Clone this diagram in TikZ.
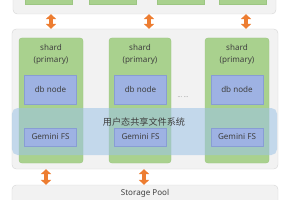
\documentclass[tikz,border=0pt]{standalone}
\usepackage{fontspec}
\setmainfont{Noto Sans}
\newfontfamily\cjkfont{Noto Sans CJK SC}
\usetikzlibrary{arrows.meta,positioning}
\definecolor{gfPanel}{HTML}{F2F2F2}
\definecolor{gfEdge}{HTML}{D6D6D6}
\definecolor{gfShard}{HTML}{A9D18E}
\definecolor{gfShardEdge}{HTML}{9CC682}
\definecolor{gfNode}{HTML}{9EB2E3}
\definecolor{gfNodeEdge}{HTML}{889DD4}
\definecolor{gfShare}{HTML}{9DC3E6}
\definecolor{gfArrow}{HTML}{ED7D31}
\definecolor{gfText}{HTML}{404040}
\tikzset{
  panel/.style={draw=gfEdge, fill=gfPanel, rounded corners=6pt, line width=0.6pt,
    minimum width=133mm, font=\fontsize{11.5}{13}\selectfont, text=gfText},
  shardbox/.style={draw=gfShardEdge, fill=gfShard, rounded corners=4pt, line width=0.5pt,
    minimum width=32mm, minimum height=62.5mm},
  topbox/.style={draw=gfShardEdge, fill=gfShard, line width=0.5pt,
    minimum width=23.5mm, minimum height=7mm},
  shardtag/.style={font=\fontsize{11.5}{17}\selectfont, text=gfText, align=center, inner sep=0pt},
  dbnode/.style={draw=gfNodeEdge, fill=gfNode, line width=0.5pt,
    minimum width=26mm, minimum height=14.5mm, font=\fontsize{11.5}{13}\selectfont, text=gfText},
  fsnode/.style={dbnode, minimum height=9mm},
  sharefs/.style={fill=gfShare, fill opacity=0.55, text opacity=1, rounded corners=8pt,
    minimum width=132.5mm, minimum height=23.5mm},
  biarrow/.style={{Triangle[length=2.4mm,width=5mm]}-{Triangle[length=2.4mm,width=5mm]},
    line width=1.7mm, gfArrow}
}
\begin{document}
\begin{tikzpicture}[x=0.5mm, y=-0.5mm]
  \useasboundingbox (0,0) rectangle (300,200);
  \clip (0,0) rectangle (300,200);
  % upper layer
  \node[panel, minimum width=131.5mm, minimum height=12mm] (upper) at (144.5,2) {};
  \node[topbox] (u1) at (48.5,-3) {};
  \node[topbox] (u2) at (112.5,-3) {};
  \node[topbox] (u3) at (181,-3) {};
  \node[topbox] (u4) at (242.5,-3) {};
  % shard layer
  \node[panel, minimum height=70mm] (mid) at (145,99) {};
  \node[shardbox] (s1) at (51,100.5) {};
  \node[shardbox, minimum width=31mm] (s2) at (140,100.5) {};
  \node[shardbox] (s3) at (237,100.5) {};
  \node[shardtag, below=3mm of s1.north] (t1) {shard\\(primary)};
  \node[shardtag, below=3mm of s2.north] (t2) {shard\\(primary)};
  \node[shardtag, below=3mm of s3.north] (t3) {shard\\(primary)};
  \node[dbnode] (db1) at (50.5,89.5) {db node};
  \node[dbnode] (db2) at (140.5,89.5) {db node};
  \node[dbnode] (db3) at (237,89.5) {db node};
  \node[font=\footnotesize, text=gray] (more) at (183,97) {... ...};
  % shared file system band
  \node[sharefs] (share) at (144.5,131.5) {};
  \node[font=\cjkfont\fontsize{13}{15}\selectfont, text=gfText] (sharetxt) at (144,122) {用户态共享文件系统};
  \node[fsnode] (fs1) at (50.5,137) {Gemini FS};
  \node[fsnode] (fs2) at (140.5,137) {Gemini FS};
  \node[fsnode] (fs3) at (237,137) {Gemini FS};
  % storage
  \node[panel, minimum height=12mm, text depth=5mm] (pool) at (145,197) {Storage Pool};
  % links
  \coordinate (a1) at (51,0);
  \coordinate (a2) at (149,0);
  \coordinate (a3) at (246,0);
  \coordinate (b1) at (46,0);
  \coordinate (b2) at (144,0);
  \draw[biarrow] (upper.south -| a1) -- (mid.north -| a1);
  \draw[biarrow] (upper.south -| a2) -- (mid.north -| a2);
  \draw[biarrow] (upper.south -| a3) -- (mid.north -| a3);
  \draw[biarrow] (mid.south -| b1) -- (pool.north -| b1);
  \draw[biarrow] (mid.south -| b2) -- (pool.north -| b2);
\end{tikzpicture}
\end{document}
